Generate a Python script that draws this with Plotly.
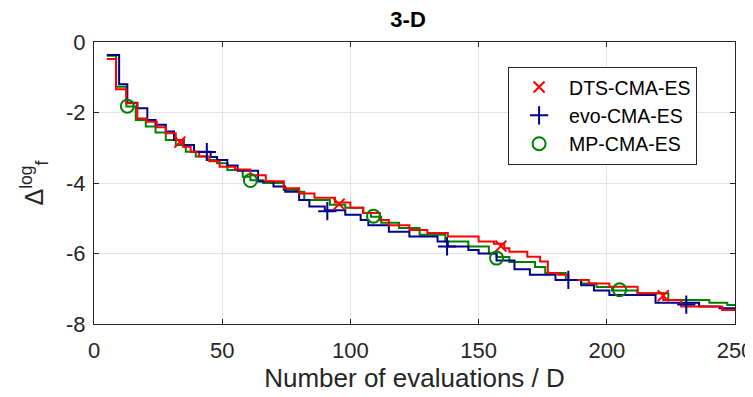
import plotly.graph_objects as go

# DTS-CMA-ES step line
dts_x = [5, 8.6, 12.6, 16.9, 20.6, 24.5, 28, 31.9, 34.7, 37.7, 41, 45, 49, 55, 61, 67, 74, 80, 86, 94,
         100, 105, 111.5, 115, 123, 130, 138, 150, 156, 160, 162, 169, 174, 177, 181, 185, 193, 201, 212,
         222, 229, 245, 250]
dts_y = [-0.48, -1.34, -1.74, -2.17, -2.26, -2.42, -2.59, -2.78, -2.97, -3.11, -3.25, -3.38, -3.54, -3.62,
         -3.78, -3.95, -4.15, -4.3, -4.42, -4.55, -4.7, -4.85, -5.05, -5.2, -5.33, -5.42, -5.52, -5.66,
         -5.72, -5.85, -5.95, -6.09, -6.23, -6.55, -6.6, -6.75, -6.85, -6.94, -7.13, -7.32, -7.5, -7.6, -7.6]

# evo-CMA-ES step line
evo_x = [5, 9.8, 13, 16.9, 20.8, 24, 28, 31.2, 35, 39, 45.5, 48, 52, 56, 64, 70, 74.6, 80, 84, 90, 98,
         104, 107, 115, 123, 134, 138, 146, 150, 157, 164, 170, 180, 190, 195, 201, 219, 236, 244, 250]
evo_y = [-0.37, -1.2, -1.72, -1.88, -2.21, -2.35, -2.54, -2.78, -2.92, -3.11, -3.26, -3.35, -3.5, -3.65,
         -3.96, -4.1, -4.25, -4.48, -4.67, -4.77, -4.9, -5.05, -5.2, -5.38, -5.52, -5.66, -5.8, -5.9, -6.0,
         -6.2, -6.45, -6.6, -6.75, -6.9, -7.05, -7.18, -7.4, -7.5, -7.55, -7.55]

# MP-CMA-ES step line
mp_x = [5, 8.6, 12.6, 16.3, 20.2, 24, 28, 31.9, 35.8, 39.7, 44, 48, 52, 58, 61, 66, 74, 80, 82, 92, 98,
        105, 108, 112, 119, 127, 137, 146, 154, 157, 162, 172, 176, 184, 190, 196, 202, 212, 224, 240,
        247, 250]
mp_y = [-0.39, -1.27, -1.83, -2.21, -2.4, -2.57, -2.78, -2.92, -3.11, -3.25, -3.35, -3.44, -3.63, -3.82,
        -3.92, -4.0, -4.2, -4.25, -4.48, -4.62, -4.7, -4.85, -4.96, -5.13, -5.28, -5.47, -5.66, -5.8, -6.0,
        -6.1, -6.24, -6.38, -6.55, -6.75, -6.85, -6.95, -7.05, -7.13, -7.32, -7.4, -7.46, -7.46]

# marker positions
dts_mx = [33.5, 95.6, 158.7, 222]
dts_my = [-2.84, -4.6, -5.79, -7.2]
evo_mx = [44, 91, 137.7, 185, 231]
evo_my = [-3.12, -4.8, -5.8, -6.75, -7.45]
mp_mx = [13, 61, 109, 157, 205]
mp_my = [-1.82, -3.93, -4.94, -6.13, -7.03]

x_ticks = [0, 50, 100, 150, 200, 250]
y_ticks = [0, -2, -4, -6, -8]

RED = "#ff0000"
BLUE = "#00008b"
GREEN = "#008000"
FONT = "Liberation Sans, Arial"

fig = go.Figure()
for xs, ys, c in [(mp_x, mp_y, GREEN), (evo_x, evo_y, BLUE), (dts_x, dts_y, RED)]:
    fig.add_trace(go.Scatter(x=xs, y=ys, mode="lines", line=dict(color=c, width=2, shape="hv"),
                             showlegend=False, hoverinfo="skip"))

fig.add_trace(go.Scatter(x=dts_mx, y=dts_my, mode="markers", name="DTS-CMA-ES",
                         marker=dict(symbol="x-thin-open", size=11, color=RED, line=dict(color=RED, width=2))))
fig.add_trace(go.Scatter(x=evo_mx, y=evo_my, mode="markers", name="evo-CMA-ES",
                         marker=dict(symbol="cross-thin-open", size=13, color=BLUE, line=dict(color=BLUE, width=2))))
fig.add_trace(go.Scatter(x=mp_mx, y=mp_my, mode="markers", name="MP-CMA-ES",
                         marker=dict(symbol="circle-open", size=13, color=GREEN, line=dict(color=GREEN, width=2))))

axis_common = dict(showgrid=True, gridcolor="#e3e3e3", gridwidth=1, zeroline=False,
                   showline=True, linecolor="#262626", linewidth=1, mirror="ticks",
                   ticks="inside", ticklen=5, tickcolor="#262626", automargin=False,
                   tickfont=dict(family=FONT, size=22, color="#262626"))

fig.update_layout(
    width=753, height=397,
    margin=dict(l=86, r=26, t=34, b=81, autoexpand=False),
    paper_bgcolor="white", plot_bgcolor="white",
    title=dict(text="<b>3-D</b>", xref="paper", x=0.49, xanchor="center", y=0.972, yanchor="middle",
               font=dict(family=FONT, size=22, color="black")),
    xaxis=dict(range=[0, 250], tickvals=x_ticks, ticktext=[str(v) for v in x_ticks],
               ticklabelstandoff=7,
               title=dict(text="Number of evaluations / D", standoff=3,
                          font=dict(family=FONT, size=26, color="#262626")),
               **axis_common),
    yaxis=dict(range=[-8, 0], tickvals=y_ticks, ticktext=[str(v) for v in y_ticks],
               ticklabelstandoff=3,
               title=dict(text="Δ<sup>log</sup><sub>f</sub>", standoff=15,
                          font=dict(family=FONT, size=25, color="#262626")),
               **axis_common),
    legend=dict(x=0.646, y=0.912, xanchor="left", yanchor="top",
                bgcolor="white", bordercolor="#262626", borderwidth=1,
                font=dict(family=FONT, size=19.5, color="black"),
                itemwidth=50, tracegroupgap=0),
)

fig.write_html("out.html")
